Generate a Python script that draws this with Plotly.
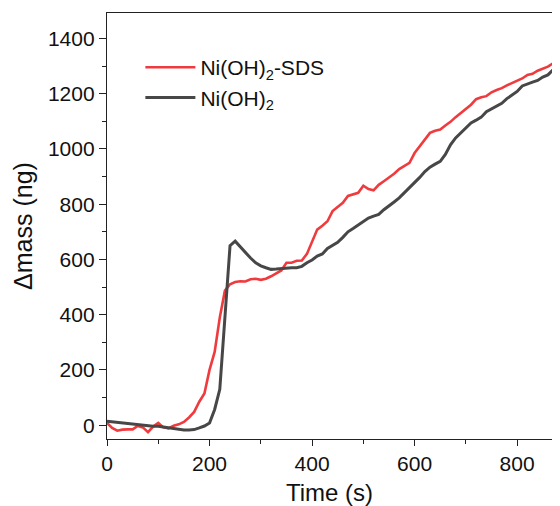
import plotly.graph_objects as go

time_s = list(range(0, 890, 10))

sds_mass = [8, -10, -20, -16, -15, -15, -3, -8, -25, -5,
            8, -8, -12, -2, 3, 12, 28, 48, 85, 115,
            200, 265, 390, 487, 510, 518, 521, 520, 528, 530,
            526, 530, 539, 548, 560, 588, 588, 595, 596, 620,
            665, 708, 722, 738, 775, 790, 805, 830, 836, 841,
            867, 855, 850, 870, 883, 896, 910, 927, 940, 950,
            985, 1010, 1035, 1058, 1066, 1070, 1085, 1098, 1115, 1130,
            1143, 1160, 1180, 1187, 1191, 1205, 1213, 1220, 1230, 1238,
            1245, 1255, 1268, 1272, 1283, 1290, 1298, 1310, 1324]

ni_mass = [14, 12, 10, 7, 5, 3, 0, -2, -3, -4,
           -4, -7, -10, -13, -16, -17, -17, -16, -10, -3,
           8, 57, 130, 400, 650, 666, 645, 625, 605, 588,
           577, 570, 564, 565, 567, 569, 570, 570, 575, 588,
           598, 612, 620, 640, 652, 662, 680, 700, 712, 724,
           738, 750, 757, 763, 780, 793, 808, 823, 841, 859,
           877, 897, 918, 934, 945, 955, 980, 1015, 1040, 1058,
           1078, 1094, 1104, 1115, 1135, 1146, 1155, 1165, 1182, 1195,
           1208, 1228, 1236, 1242, 1248, 1260, 1268, 1285, 1305]

names = ["Ni(OH)<sub>2</sub>-SDS", "Ni(OH)<sub>2</sub>"]
colors = ["#ef3b3e", "#474747"]

FONT = "Liberation Sans, Arial, sans-serif"

fig = go.Figure()
fig.add_trace(go.Scatter(x=time_s, y=sds_mass, mode="lines", name=names[0],
                         line=dict(color=colors[0], width=2.6)))
fig.add_trace(go.Scatter(x=time_s, y=ni_mass, mode="lines", name=names[1],
                         line=dict(color=colors[1], width=3)))

fig.update_layout(
    width=544, height=498,
    margin=dict(l=99, r=0, t=5, b=67),
    paper_bgcolor="white", plot_bgcolor="white",
    font=dict(family=FONT, size=21, color="#111111"),
    showlegend=True,
    legend=dict(x=0.075, y=0.92, xanchor="left", yanchor="top",
                bgcolor="rgba(0,0,0,0)", font=dict(size=21),
                tracegroupgap=0, itemwidth=50),
    xaxis=dict(range=[0, 868], tickvals=[0, 200, 400, 600, 800], automargin=True,
               ticks="outside", ticklen=6, tickwidth=1.3, tickcolor="#222",
               showline=True, linecolor="#222", linewidth=1.3, mirror=True,
               showgrid=False, zeroline=False,
               minor=dict(tickvals=[100, 300, 500, 700], ticks="outside",
                          ticklen=4, tickwidth=1.2, tickcolor="#222", showgrid=False),
               title=dict(text="Time (s)", font=dict(size=24), standoff=10)),
    yaxis=dict(range=[-50, 1492], tickvals=[0, 200, 400, 600, 800, 1000, 1200, 1400],
               automargin=False,
               ticks="outside", ticklen=7, tickwidth=1.3, tickcolor="#222",
               showline=True, linecolor="#222", linewidth=1.3, mirror=False,
               showgrid=False, zeroline=False,
               minor=dict(tickvals=[100, 300, 500, 700, 900, 1100, 1300], ticks="outside",
                          ticklen=4, tickwidth=1.2, tickcolor="#222", showgrid=False),
               title=dict(text="Δmass (ng)", font=dict(size=25), standoff=8)),
)

fig.write_html("out.html")
